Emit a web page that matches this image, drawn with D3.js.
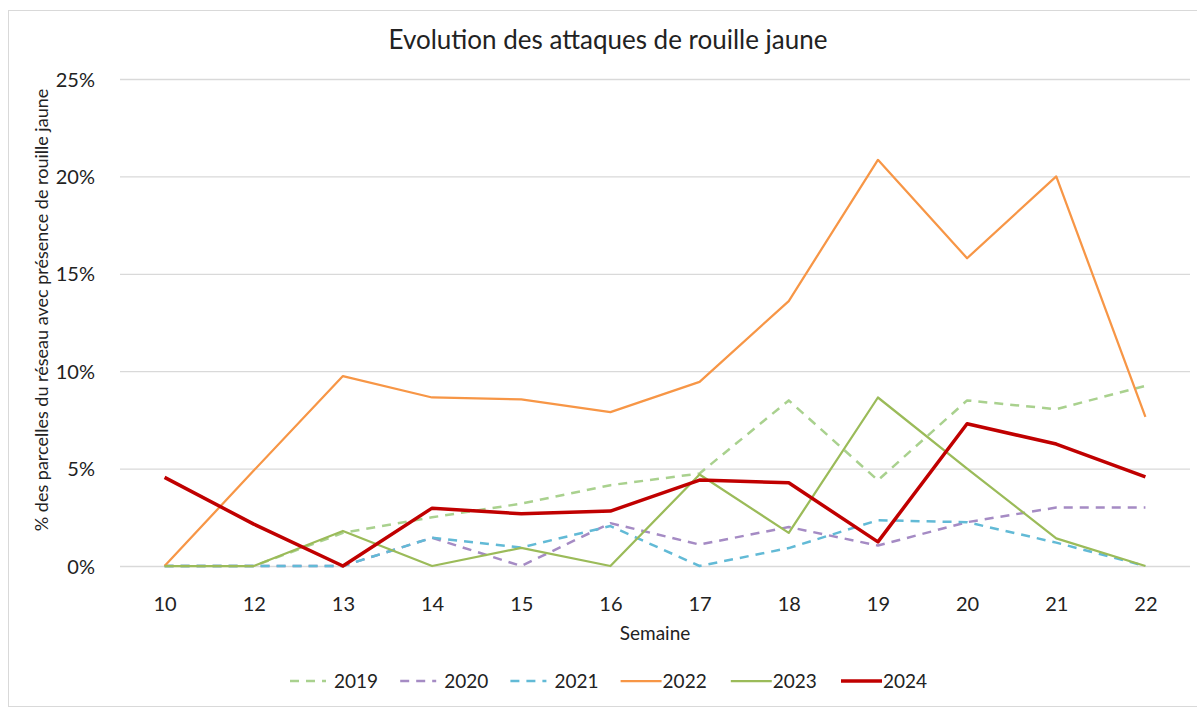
<!DOCTYPE html>
<html>
<head>
<meta charset="utf-8">
<script src="https://cdn.jsdelivr.net/npm/d3@7"></script>
<style>
    body { margin: 0; background: #fff; }
    text { font-family: Lato, "Open Sans", sans-serif; fill: #222; }
</style>
</head>
<body>
<div id="chart"></div>
<script>

// weeks on the x axis (week 11 missing in the source)
const weeks = ['10', '12', '13', '14', '15', '16', '17', '18', '19', '20', '21', '22'];

// % of plots with yellow rust, one array per year
const y2019 = [0, 0, 1.7, 2.5, 3.2, 4.15, 4.75, 8.5, 4.4, 8.5, 8.05, 9.25];
const y2020 = [0, 0, 0, 1.45, 0, 2.2, 1.1, 2.0, 1.05, 2.25, 3.0, 3.0];
const y2021 = [0, 0, 0, 1.45, 0.95, 2.05, 0, 0.92, 2.35, 2.25, 1.2, 0];
const y2022 = [0, 4.9, 9.75, 8.65, 8.55, 7.9, 9.45, 13.6, 20.85, 15.8, 20.0, 7.65];
const y2023 = [0, 0, 1.8, 0, 0.93, 0, 4.7, 1.7, 8.65, 5.0, 1.42, 0];
const y2024 = [4.55, 2.15, 0, 2.97, 2.68, 2.82, 4.41, 4.27, 1.24, 7.3, 6.26, 4.57];

const yTicks = [0, 5, 10, 15, 20, 25];

const seriesNames = ['2019', '2020', '2021', '2022', '2023', '2024'];
const seriesValues = [y2019, y2020, y2021, y2022, y2023, y2024];

class RustChart {
    constructor(parentElement) {
        this.parentElement = parentElement;

        this.margin = {top: 79, right: 7, bottom: 142, left: 120};
        this.width = 1197 - this.margin.left - this.margin.right;
        this.height = 708 - this.margin.top - this.margin.bottom;

        this.styles = {
            '2019': {color: '#A9D18E', width: 2.5, dash: '9,7'},
            '2020': {color: '#A58BC4', width: 2.5, dash: '9,7'},
            '2021': {color: '#62BAD6', width: 2.5, dash: '9,7'},
            '2022': {color: '#F79646', width: 2.25, dash: null},
            '2023': {color: '#9BBB59', width: 2.25, dash: null},
            '2024': {color: '#C00000', width: 3.5, dash: null}
        };

        this.displayData = seriesNames.map((name, i) => ({
            name: name,
            values: weeks.map((w, j) => ({week: w, value: seriesValues[i][j]}))
        }));

        this.initVis();
    }

    initVis() {
        let vis = this;

        let root = d3.select(vis.parentElement)
            .append("svg")
            .attr("width", 1197)
            .attr("height", 708);

        // light frame around the whole chart
        root.append("rect")
            .attr("x", 8.5)
            .attr("y", 10.5)
            .attr("width", 1200)
            .attr("height", 696)
            .attr("fill", "#fff")
            .attr("stroke", "#d9d9d9");

        root.append("text")
            .attr("x", 608)
            .attr("y", 49)
            .attr("text-anchor", "middle")
            .style("font-size", "26px")
            .text("Evolution des attaques de rouille jaune");

        vis.svg = root.append("g")
            .attr("transform", `translate(${vis.margin.left},${vis.margin.top})`);

        vis.x = d3.scalePoint()
            .domain(weeks)
            .range([0, vis.width])
            .padding(0.5);

        vis.y = d3.scaleLinear()
            .domain([0, 25])
            .range([vis.height, 0]);

        // horizontal gridlines
        vis.svg.append("g")
            .attr("class", "grid")
            .call(d3.axisLeft(vis.y).tickValues(yTicks).tickSize(-vis.width).tickFormat(""))
            .call(g => g.select(".domain").remove())
            .call(g => g.selectAll("line").attr("stroke", "#d9d9d9").attr("stroke-width", 1.3));

        // y axis labels
        vis.svg.append("g")
            .attr("class", "y-axis")
            .attr("transform", "translate(-22,0)")
            .call(d3.axisLeft(vis.y).tickValues(yTicks).tickSize(0).tickFormat(d => d + "%"))
            .call(g => g.select(".domain").remove())
            .call(g => g.selectAll("text").style("font-size", "20px").attr("dy", "0.35em"));

        // x axis labels
        vis.svg.append("g")
            .attr("class", "x-axis")
            .attr("transform", `translate(0,${vis.height})`)
            .call(d3.axisBottom(vis.x).tickSize(0).tickPadding(31))
            .call(g => g.select(".domain").remove())
            .call(g => g.selectAll("text").style("font-size", "20px"));

        vis.svg.append("text")
            .attr("x", vis.width / 2)
            .attr("y", vis.height + 74)
            .attr("text-anchor", "middle")
            .style("font-size", "19px")
            .text("Semaine");

        // rotated y title, centred at about y = 310 of the page
        vis.svg.append("text")
            .attr("transform", "rotate(-90)")
            .attr("x", -(310 - vis.margin.top))
            .attr("y", -72)
            .attr("text-anchor", "middle")
            .style("font-size", "18px")
            .text("% des parcelles du réseau avec présence de rouille jaune");

        vis.line = d3.line()
            .x(d => vis.x(d.week))
            .y(d => vis.y(d.value));

        vis.updateVis();
        vis.drawLegend(root);
    }

    updateVis() {
        let vis = this;

        vis.svg.selectAll(".series")
            .data(vis.displayData, d => d.name)
            .enter()
            .append("path")
            .attr("class", "series")
            .attr("fill", "none")
            .attr("stroke", d => vis.styles[d.name].color)
            .attr("stroke-width", d => vis.styles[d.name].width)
            .attr("stroke-dasharray", d => vis.styles[d.name].dash)
            .attr("stroke-linejoin", "round")
            .attr("d", d => vis.line(d.values));
    }

    drawLegend(root) {
        let vis = this;

        let legend = root.append("g")
            .attr("transform", "translate(290,681)");

        let items = legend.selectAll(".legend-item")
            .data(seriesNames)
            .enter()
            .append("g")
            .attr("class", "legend-item")
            .attr("transform", (d, i) => `translate(${i * 110.2},0)`);

        items.append("line")
            .attr("x1", 0)
            .attr("x2", d => vis.styles[d].dash ? 36 : 41)
            .attr("y1", 0)
            .attr("y2", 0)
            .attr("stroke", d => vis.styles[d].color)
            .attr("stroke-width", d => vis.styles[d].width)
            .attr("stroke-dasharray", d => vis.styles[d].dash);

        items.append("text")
            .attr("x", d => vis.styles[d].dash ? 44 : 42)
            .attr("y", 0)
            .attr("dy", "0.35em")
            .style("font-size", "19px")
            .text(d => d);
    }
}

let rustChart = new RustChart("#chart");
</script>
</body>
</html>
